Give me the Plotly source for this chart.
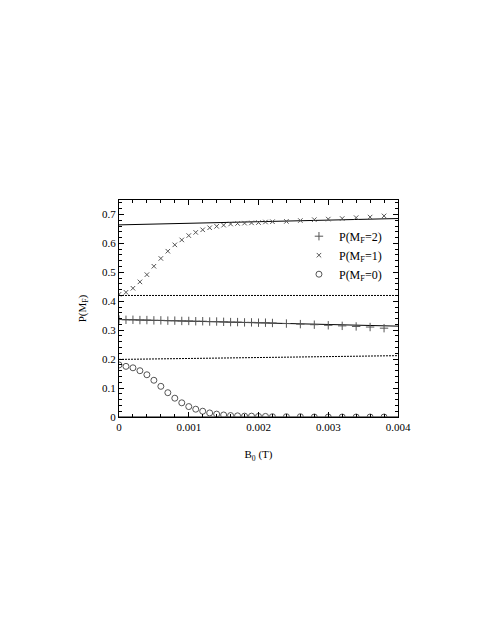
import plotly.graph_objects as go

# magnetic field B0 (T) for the sampled points
b0 = [0.0, 0.0001, 0.0002, 0.0003, 0.0004, 0.0005, 0.0006, 0.0007, 0.0008, 0.0009,
      0.0010, 0.0011, 0.0012, 0.0013, 0.0014, 0.0015, 0.0016, 0.0017, 0.0018, 0.0019,
      0.0020, 0.0021, 0.0022, 0.0024, 0.0026, 0.0028, 0.0030, 0.0032, 0.0034, 0.0036, 0.0038]

p_mf2 = [0.337, 0.336, 0.336, 0.335, 0.335, 0.334, 0.334, 0.333, 0.333, 0.332,
         0.332, 0.331, 0.331, 0.330, 0.330, 0.329, 0.328, 0.328, 0.327, 0.327,
         0.326, 0.326, 0.325, 0.323, 0.321, 0.319, 0.317, 0.315, 0.313, 0.311, 0.307]

p_mf1 = [0.424, 0.431, 0.445, 0.467, 0.492, 0.521, 0.548, 0.573, 0.595, 0.612,
         0.627, 0.638, 0.647, 0.654, 0.659, 0.663, 0.667, 0.669, 0.670, 0.671,
         0.672, 0.674, 0.675, 0.676, 0.679, 0.682, 0.684, 0.686, 0.689, 0.691, 0.695]

p_mf0 = [0.180, 0.175, 0.170, 0.160, 0.146, 0.127, 0.106, 0.084, 0.065, 0.049,
         0.036, 0.027, 0.020, 0.014, 0.010, 0.007, 0.005, 0.004, 0.003, 0.003,
         0.002, 0.002, 0.001, 0.001, 0.001, 0.0, 0.0, 0.0, 0.0, 0.0, 0.0]

# reference curves (solid = high field limit, dotted = low field)
line_x = [0.0, 0.002, 0.004]
solid_mf1 = [0.664, 0.675, 0.686]
solid_mf2 = [0.337, 0.326, 0.314]
solid_mf0 = [0.0, 0.0, 0.0]
dotted_a = [0.420, 0.420, 0.420]
dotted_b = [0.199, 0.205, 0.212]

x_ticks = [0, 0.001, 0.002, 0.003, 0.004]
x_labels = ["0", "0.001", "0.002", "0.003", "0.004"]
y_ticks = [0, 0.1, 0.2, 0.3, 0.4, 0.5, 0.6, 0.7]
y_labels = ["0", "0.1", "0.2", "0.3", "0.4", "0.5", "0.6", "0.7"]

font = "Liberation Serif"
mark_col = "#555555"

fig = go.Figure()

for ys in [solid_mf1, solid_mf2, solid_mf0]:
    fig.add_trace(go.Scatter(x=line_x, y=ys, mode="lines", showlegend=False,
                             line=dict(color="black", width=1)))
for ys in [dotted_a, dotted_b]:
    fig.add_trace(go.Scatter(x=line_x, y=ys, mode="lines", showlegend=False,
                             line=dict(color="black", width=1, dash="2px,1px")))

fig.add_trace(go.Scatter(x=b0, y=p_mf2, mode="markers", name="P(M<sub>F</sub>=2)",
                         marker=dict(symbol="cross-thin-open", size=6, color=mark_col,
                                     line=dict(color=mark_col, width=1))))
fig.add_trace(go.Scatter(x=b0, y=p_mf1, mode="markers", name="P(M<sub>F</sub>=1)",
                         marker=dict(symbol="x-thin-open", size=4.5, color=mark_col,
                                     line=dict(color=mark_col, width=1))))
fig.add_trace(go.Scatter(x=b0, y=p_mf0, mode="markers", name="P(M<sub>F</sub>=0)",
                         marker=dict(symbol="circle-open", size=6, color=mark_col,
                                     line=dict(color=mark_col, width=1))))

axis_common = dict(showgrid=False, zeroline=False, showline=True, linecolor="black",
                   linewidth=1, mirror="ticks", ticks="inside", ticklen=5,
                   tickcolor="black", tickfont=dict(family=font, size=11, color="black"))

fig.update_xaxes(range=[0, 0.004], tickvals=x_ticks, ticktext=x_labels,
                 title=dict(text="B<sub>0</sub> (T)", standoff=18,
                            font=dict(family=font, size=11, color="black")),
                 minor=dict(ticks="inside", ticklen=3, dtick=0.0002, tickcolor="black"),
                 **axis_common)
fig.update_yaxes(range=[0, 0.75], tickvals=y_ticks, ticktext=y_labels,
                 title=dict(text="P(M<sub>F</sub>)", standoff=13,
                            font=dict(family=font, size=11, color="black")),
                 minor=dict(ticks="inside", ticklen=3, dtick=0.02, tickcolor="black"),
                 **axis_common)

fig.update_layout(width=475, height=619, plot_bgcolor="white", paper_bgcolor="white",
                  margin=dict(l=111, r=85, t=192, b=210),
                  font=dict(family=font, size=11, color="black"),
                  legend=dict(x=0.645, y=0.90, xanchor="left", yanchor="top",
                              bgcolor="rgba(0,0,0,0)", tracegroupgap=0,
                              itemwidth=30,
                              font=dict(family=font, size=12, color="black")))

fig.write_html("out.html")
